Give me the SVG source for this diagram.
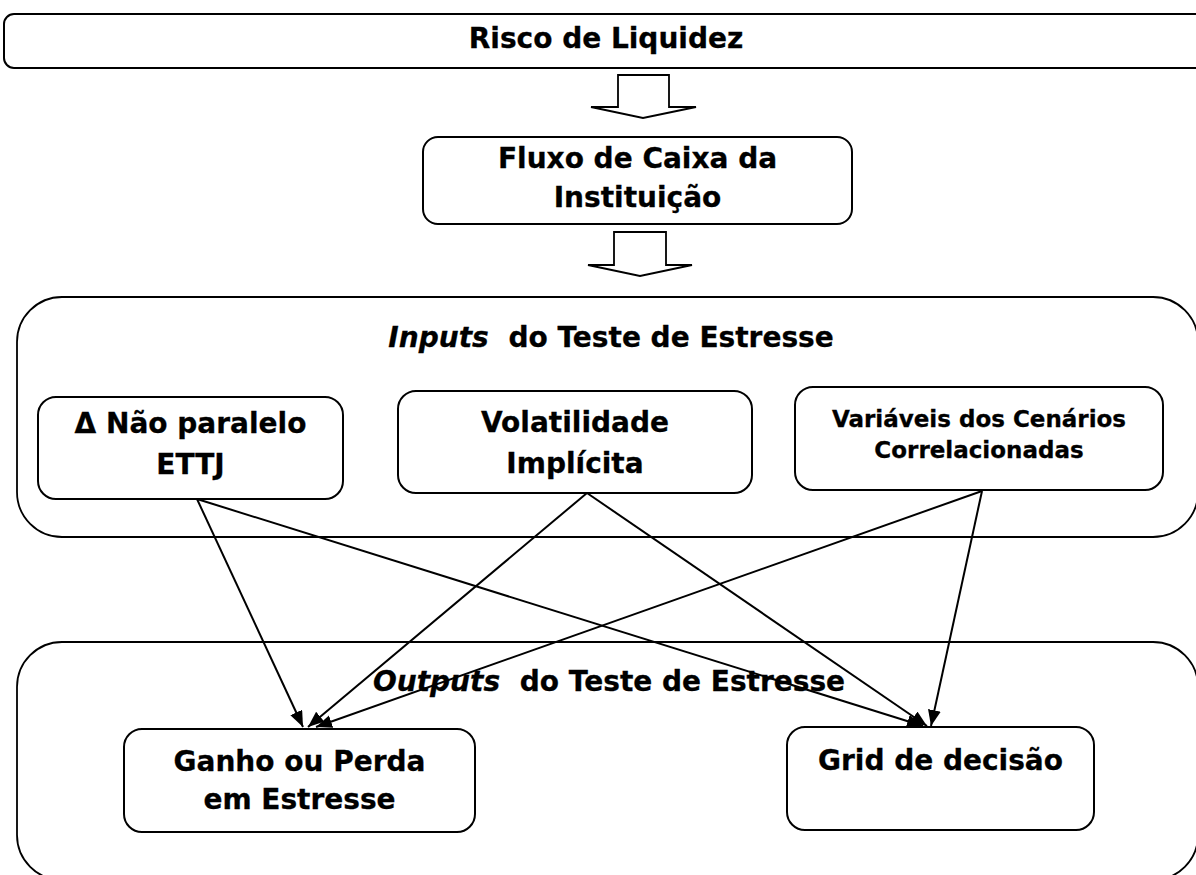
<svg xmlns="http://www.w3.org/2000/svg" width="1196" height="875" viewBox="0 0 1196 875">
<style>
.box{fill:#fff;stroke:#000;stroke-width:2}
.cont{fill:#fff;stroke:#000;stroke-width:1.8}
.blk{fill:#fff;stroke:#000;stroke-width:1.8;stroke-linejoin:miter}
text{font-family:"DejaVu Sans","Verdana",sans-serif;font-weight:bold;fill:#000;text-anchor:middle;stroke:#000;stroke-width:0.3}
.t28{font-size:28px}
.t23{font-size:23px}
.con{stroke:#000;stroke-width:2;fill:none;marker-end:url(#ah)}
</style>
<defs>
<marker id="ah" markerUnits="userSpaceOnUse" markerWidth="18" markerHeight="14" refX="16" refY="6.5" orient="auto">
<path d="M0,0 L16,6.5 L0,13 Z" fill="#000"/>
</marker>
</defs>
<rect width="1196" height="875" fill="#fff"/>

<g id="risco">
<rect class="box" x="4" y="14" width="1210" height="54" rx="10"/>
<text class="t28" x="606" y="48">Risco de Liquidez</text>
</g>

<g id="arrow1"><path class="blk" d="M618,75 L669,75 L669,107 L696,107 L643,118 L591,107 L618,107 Z"/></g>

<g id="fluxo">
<rect class="box" x="423" y="137" width="429" height="87" rx="15"/>
<text class="t28" x="637.5" y="168">Fluxo de Caixa da</text>
<text class="t28" x="637.5" y="207">Instituição</text>
</g>

<g id="arrow2"><path class="blk" d="M614,232 L666,232 L666,265 L692,265 L640,276 L588,265 L614,265 Z"/></g>

<g id="inputs">
<rect class="cont" x="17" y="297" width="1181" height="240" rx="45"/>
<text class="t28" x="611" y="347"><tspan font-style="italic">Inputs</tspan><tspan dx="10"> do Teste de Estresse</tspan></text>
</g>

<g id="delta">
<rect class="box" x="38" y="397" width="305" height="102" rx="18"/>
<text class="t28" x="190.5" y="433">Δ Não paralelo</text>
<text class="t28" x="190.5" y="474">ETTJ</text>
</g>

<g id="volatilidade">
<rect class="box" x="398" y="391" width="354" height="102" rx="18"/>
<text class="t28" x="575" y="432">Volatilidade</text>
<text class="t28" x="575" y="473">Implícita</text>
</g>

<g id="variaveis">
<rect class="box" x="795" y="387" width="368" height="103" rx="18"/>
<text class="t23" x="979" y="427">Variáveis dos Cenários</text>
<text class="t23" x="979" y="458">Correlacionadas</text>
</g>

<g id="outputs">
<rect class="cont" x="17" y="642" width="1181" height="238" rx="45"/>
<text class="t28" x="609" y="691"><tspan font-style="italic">Outputs</tspan><tspan dx="10"> do Teste de Estresse</tspan></text>
</g>

<g id="ganho">
<rect class="box" x="124" y="729" width="351" height="103" rx="18"/>
<text class="t28" x="299.5" y="771">Ganho ou Perda</text>
<text class="t28" x="299.5" y="809">em Estresse</text>
</g>

<g id="grid">
<rect class="box" x="787" y="727" width="307" height="103" rx="18"/>
<text class="t28" x="940.5" y="770">Grid de decisão</text>
</g>

<g id="connectors">
<line class="con" x1="197" y1="499" x2="303" y2="727"/>
<line class="con" x1="587" y1="493" x2="308" y2="727"/>
<line class="con" x1="982" y1="491" x2="316" y2="727"/>
<line class="con" x1="197" y1="499" x2="923" y2="726"/>
<line class="con" x1="587" y1="493" x2="927" y2="726"/>
<line class="con" x1="982" y1="491" x2="931" y2="726"/>
</g>
</svg>
